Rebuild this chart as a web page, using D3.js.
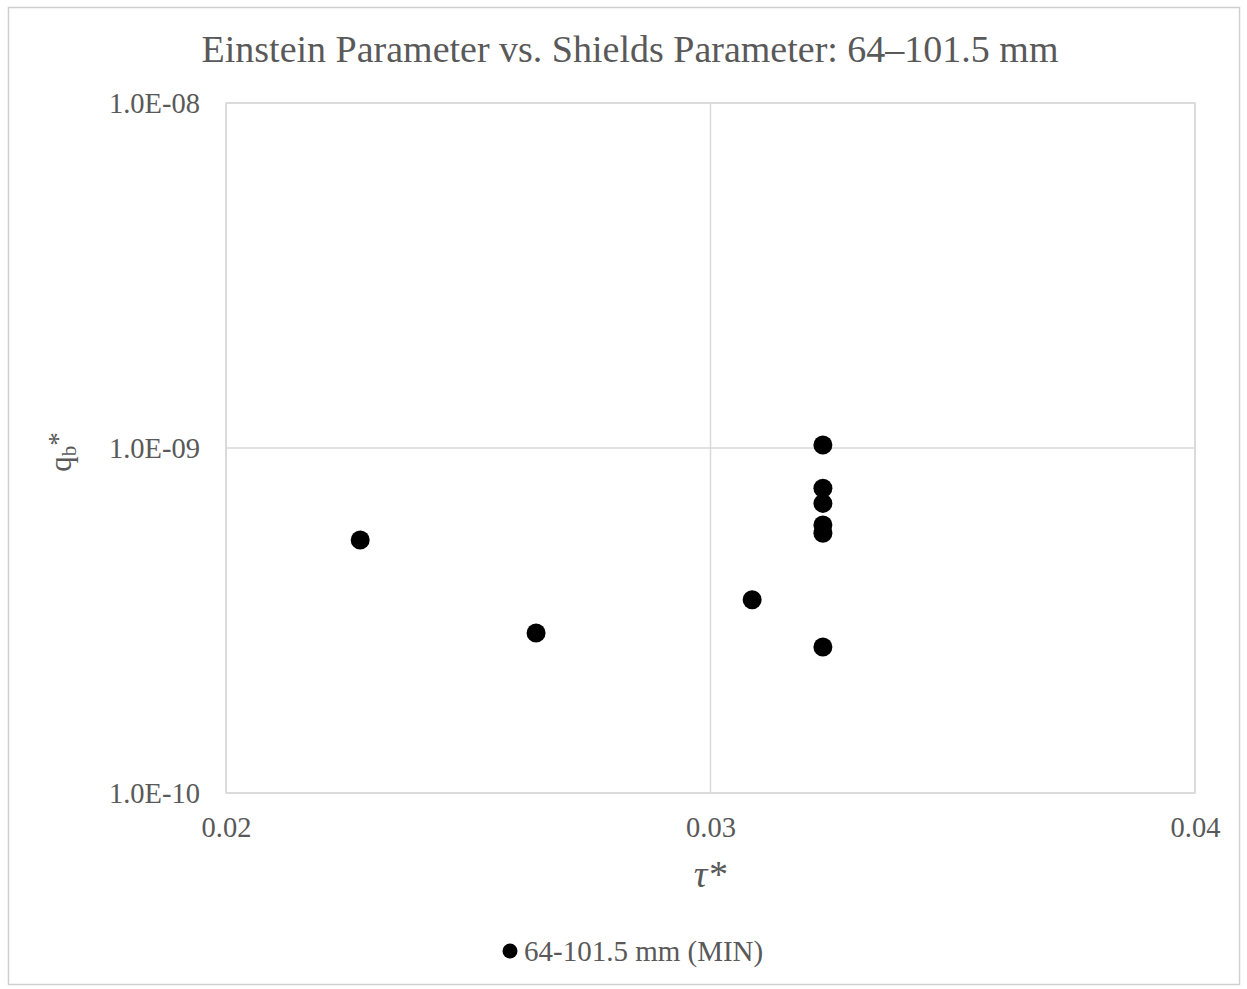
<!DOCTYPE html>
<html><head><meta charset="utf-8">
<script src="https://cdn.jsdelivr.net/npm/d3@7"></script>
<style>body{margin:0;background:#fff;} text{font-family:"Liberation Serif","Times New Roman",serif;}</style>
</head><body>
<svg id="c" width="1247" height="989"></svg>
<script>
const title = "Einstein Parameter vs. Shields Parameter: 64–101.5 mm";
const seriesName = "64-101.5 mm (MIN)";
const tau = [0.02277, 0.0264, 0.03086, 0.03232, 0.03232, 0.03232, 0.03232, 0.03232, 0.03232];
const qb  = [5.41e-10, 2.91e-10, 3.63e-10, 1.02e-9, 7.64e-10, 6.91e-10, 5.98e-10, 5.66e-10, 2.65e-10];
const xTicks = [0.02, 0.03, 0.04];
const yTicks = [1e-10, 1e-9, 1e-8];
const yTickLabels = ["1.0E-10", "1.0E-09", "1.0E-08"];

const svg = d3.select("#c");
const m = {left:226, right:1195, top:103, bottom:793};
svg.append("rect").attr("x",8.5).attr("y",7.5).attr("width",1231).attr("height",977)
  .attr("fill","#fff").attr("stroke","#d0d0d0").attr("stroke-width",1.5);

const x = d3.scaleLinear().domain([0.02,0.04]).range([m.left,m.right]);
const y = d3.scaleLog().domain([1e-10,1e-8]).range([m.bottom,m.top]);

// gridlines
svg.append("g").selectAll("line").data(xTicks).join("line")
  .attr("x1",d=>x(d)).attr("x2",d=>x(d)).attr("y1",m.top).attr("y2",m.bottom)
  .attr("stroke","#d9d9d9").attr("stroke-width",1.5);
svg.append("g").selectAll("line").data(yTicks).join("line")
  .attr("y1",d=>y(d)).attr("y2",d=>y(d)).attr("x1",m.left).attr("x2",m.right)
  .attr("stroke","#d9d9d9").attr("stroke-width",1.5);
svg.append("rect").attr("x",m.left).attr("y",m.top).attr("width",m.right-m.left).attr("height",m.bottom-m.top)
  .attr("fill","none").attr("stroke","#d9d9d9").attr("stroke-width",1.5);

const xAxis = svg.append("g").attr("transform",`translate(0,${m.bottom})`)
  .call(d3.axisBottom(x).tickValues(xTicks).tickFormat(d3.format(".2f")).tickSize(0).tickPadding(24));
const yAxis = svg.append("g").attr("transform",`translate(${m.left},0)`)
  .call(d3.axisLeft(y).tickValues(yTicks).tickFormat((d,i)=>yTickLabels[i]).tickSize(0).tickPadding(26));
[xAxis,yAxis].forEach(a=>{
  a.select(".domain").remove();
  a.selectAll("text").attr("font-family","Liberation Serif, serif").attr("font-size",28.5).attr("fill","#595959");
});

// points
svg.append("g").selectAll("circle").data(tau.map((t,i)=>[t,qb[i]])).join("circle")
  .attr("cx",d=>x(d[0])).attr("cy",d=>y(d[1])).attr("r",9.5).attr("fill","#000");

// title
svg.append("text").attr("x",630).attr("y",62).attr("text-anchor","middle")
  .attr("font-size",38).attr("fill","#595959").text(title);

// x label
svg.append("text").attr("x",710).attr("y",887).attr("text-anchor","middle")
  .attr("font-size",38).attr("font-style","italic").attr("fill","#595959").text("τ*");

// y label
const yl = svg.append("text").attr("transform","translate(71,452) rotate(-90)").attr("text-anchor","middle")
  .attr("font-size",31).attr("fill","#595959");
yl.append("tspan").text("q");
yl.append("tspan").attr("font-size",21).attr("dy",5).text("b");
yl.append("tspan").attr("font-size",27).attr("dy",-9).text("*");

// legend
svg.append("circle").attr("cx",510).attr("cy",951).attr("r",7.5).attr("fill","#000");
svg.append("text").attr("x",524).attr("y",961).attr("font-size",29).attr("fill","#595959").text(seriesName);
</script>
</body></html>
